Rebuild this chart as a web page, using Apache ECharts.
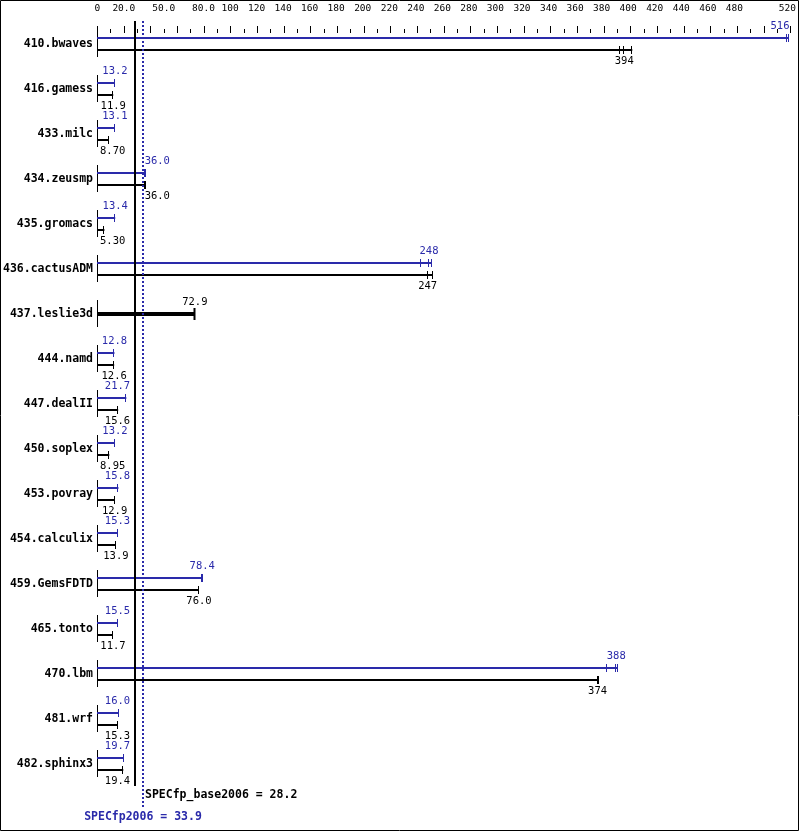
<!DOCTYPE html>
<html><head><meta charset="utf-8">
<script src="https://cdn.jsdelivr.net/npm/echarts@6/dist/echarts.min.js"></script>
<style>html,body{margin:0;padding:0;background:#fff}#c{width:799px;height:831px}</style>
</head><body><div id="c"></div>
<script>
const benchmarks = ["410.bwaves","416.gamess","433.milc","434.zeusmp","435.gromacs","436.cactusADM","437.leslie3d","444.namd","447.dealII","450.soplex","453.povray","454.calculix","459.GemsFDTD","465.tonto","470.lbm","481.wrf","482.sphinx3"];
const peakValues = [516, 13.2, 13.1, 36.0, 13.4, 248, null, 12.8, 21.7, 13.2, 15.8, 15.3, 78.4, 15.5, 388, 16.0, 19.7];
const baseValues = [394, 11.9, 8.70, 36.0, 5.30, 247, 72.9, 12.6, 15.6, 8.95, 12.9, 13.9, 76.0, 11.7, 374, 15.3, 19.4];
const peakRuns = [[516,517],[13.2],[13.1],[36.0,36.4],[13.4],[242,248,250],[],[12.8],[21.7],[13.2],[15.8],[15.3],[78.4,79.0],[15.5],[381,388,389],[16.0],[19.7]];
const baseRuns = [[391,394,400],[11.9],[8.70],[36.0,36.4],[5.30],[247,251],[72.9],[12.6],[15.6],[8.95],[12.9],[13.9],[76.0],[11.7],[374,375],[15.3],[19.4]];
const baseScore = 28.2;
const peakScore = 33.9;
const baseScoreLabel = "SPECfp_base2006 = 28.2";
const peakScoreLabel = "SPECfp2006 = 33.9";
const tickValues = [0,20,50,80,100,120,140,160,180,200,220,240,260,280,300,320,340,360,380,400,420,440,460,480,520];
const tickLabels = ["0","20.0","50.0","80.0","100","120","140","160","180","200","220","240","260","280","300","320","340","360","380","400","420","440","460","480","520"];

const BLUE = '#2a2aaa';
const MONO = '"DejaVu Sans Mono", "Liberation Mono", monospace';
const chart = echarts.init(document.getElementById('c'), null, {renderer: 'canvas'});

function fmt(v){ return v.toPrecision(3); }

function renderRow(params, api) {
  const i = api.value(1);
  const p0 = api.coord([0, i]);
  const x0 = Math.round(p0[0]);
  const cy = Math.round(p0[1]);
  const sx = v => api.coord([v, i])[0];
  const rightLimit = sx(516) + 2;
  const baseX = sx(baseScore), peakX = sx(peakScore);
  const ch = [];
  ch.push({type:'line', shape:{x1:x0+0.5, y1:cy-13, x2:x0+0.5, y2:cy+14}, style:{stroke:'#000', lineWidth:1}});
  ch.push({type:'text', style:{text: benchmarks[i], x: x0-4, y: cy+1, align:'right', verticalAlign:'middle', font:'bold 11.5px ' + MONO, fill:'#000'}});
  function bar(runs, val, y, color, lw, pos) {
    const maxRun = Math.max.apply(null, runs);
    const xe = sx(maxRun);
    ch.push({type:'line', shape:{x1:x0, y1:y, x2:xe, y2:y}, style:{stroke:color, lineWidth:lw}});
    const capH = lw > 2 ? 6 : 4;
    runs.forEach(r => {
      const xr = Math.round(sx(r)) - 0.5;
      ch.push({type:'line', shape:{x1:xr, y1:y-capH, x2:xr, y2:y+capH}, style:{stroke:color, lineWidth: lw > 2 ? 2 : 1}});
    });
    const txt = fmt(val);
    const w = txt.length * 6.3;
    let left = sx(val) - w/2;
    if (left < x0 + 3) left = x0 + 3;
    if (left + w > rightLimit) left = rightLimit - w;
    if (val > baseScore && left < peakX + 2 && left + w > baseX - 1) left = peakX + 2;
    if (val < baseScore && left + w > baseX - 5) left = Math.max(x0 + 3, baseX - 5 - w);
    const ty = pos === 'above' ? y - 12 : y + 11;
    ch.push({type:'text', style:{text: txt, x: left, y: ty, align:'left', verticalAlign:'middle', font:'10.5px ' + MONO, fill:color}});
  }
  const p = peakValues[i], b = baseValues[i];
  if (p != null) bar(peakRuns[i], p, cy-5, BLUE, 2, 'above');
  if (b != null) {
    if (p == null) bar(baseRuns[i], b, cy+1, '#000', 4, 'above');
    else bar(baseRuns[i], b, cy+7, '#000', 2, 'below');
  }
  return {type:'group', children: ch};
}

function renderRefs(params, api) {
  const top = api.coord([0, -0.4444])[1];
  const bot = api.coord([0, 16.378])[1];
  const bx = Math.round(api.coord([baseScore, 0])[0]);
  const px = Math.round(api.coord([peakScore, 0])[0]);
  return {type:'group', children:[
    {type:'line', shape:{x1:bx, y1:top-2, x2:bx, y2:bot+6}, style:{stroke:'#000', lineWidth:2}},
    {type:'line', shape:{x1:px, y1:top-2, x2:px, y2:bot+27}, style:{stroke:BLUE, lineWidth:2, lineDash:[2,2]}},
    {type:'text', style:{text: baseScoreLabel, x: px+2, y: bot+15, align:'left', verticalAlign:'middle', font:'bold 11.5px ' + MONO, fill:'#000'}},
    {type:'text', style:{text: peakScoreLabel, x: px, y: bot+37, align:'center', verticalAlign:'middle', font:'bold 11.5px ' + MONO, fill:BLUE}}
  ]};
}

const rowData = benchmarks.map((_, i) => [0, i]);

chart.setOption({
  animation: false,
  backgroundColor: '#fff',
  grid: [
    {left: 97.3, right: 8.3, top: 23, bottom: 51},
    {left: 97.3, right: 8.3, top: 23, height: 10}
  ],
  xAxis: [
    {type:'value', gridIndex:0, position:'bottom', min:0, max:516, show:false},
    {type:'value', gridIndex:0, position:'top', min:0, max:520, interval:10,
      axisLine:{show:false}, axisTick:{show:false}, splitLine:{show:false},
      axisLabel:{show:true, interval:0, margin:9, hideOverlap:false, color:'#000', fontSize:9.5, fontFamily:MONO,
        formatter: v => { const k = tickValues.indexOf(v); return k >= 0 ? tickLabels[k] : ''; }}},
    {type:'value', gridIndex:1, position:'top', min:0, max:520, interval:20,
      axisLine:{show:false}, axisLabel:{show:false}, splitLine:{show:false},
      axisTick:{show:true, length:7, lineStyle:{color:'#000', width:1}},
      minorTick:{show:true, splitNumber:2, length:4, lineStyle:{color:'#000', width:1}},
      minorSplitLine:{show:false}}
  ],
  yAxis: [
    {type:'value', gridIndex:0, inverse:true, min:-0.4444, max:16.378, show:false},
    {type:'value', gridIndex:1, min:0, max:1, show:false}
  ],
  graphic: [
    {type:'rect', shape:{x:0.5, y:0.5, width:798, height:830}, style:{fill:'none', stroke:'#000', lineWidth:1}, z:100}
  ],
  series: [
    {type:'custom', xAxisIndex:0, yAxisIndex:0, clip:false, renderItem: renderRefs, data:[[0,0]], encode:{x:0, y:1}, z:3},
    {type:'custom', xAxisIndex:0, yAxisIndex:0, clip:false, renderItem: renderRow, data: rowData, encode:{x:0, y:1}, z:2},
    {type:'scatter', xAxisIndex:2, yAxisIndex:1, data:[], silent:true}
  ]
});
</script></body></html>
